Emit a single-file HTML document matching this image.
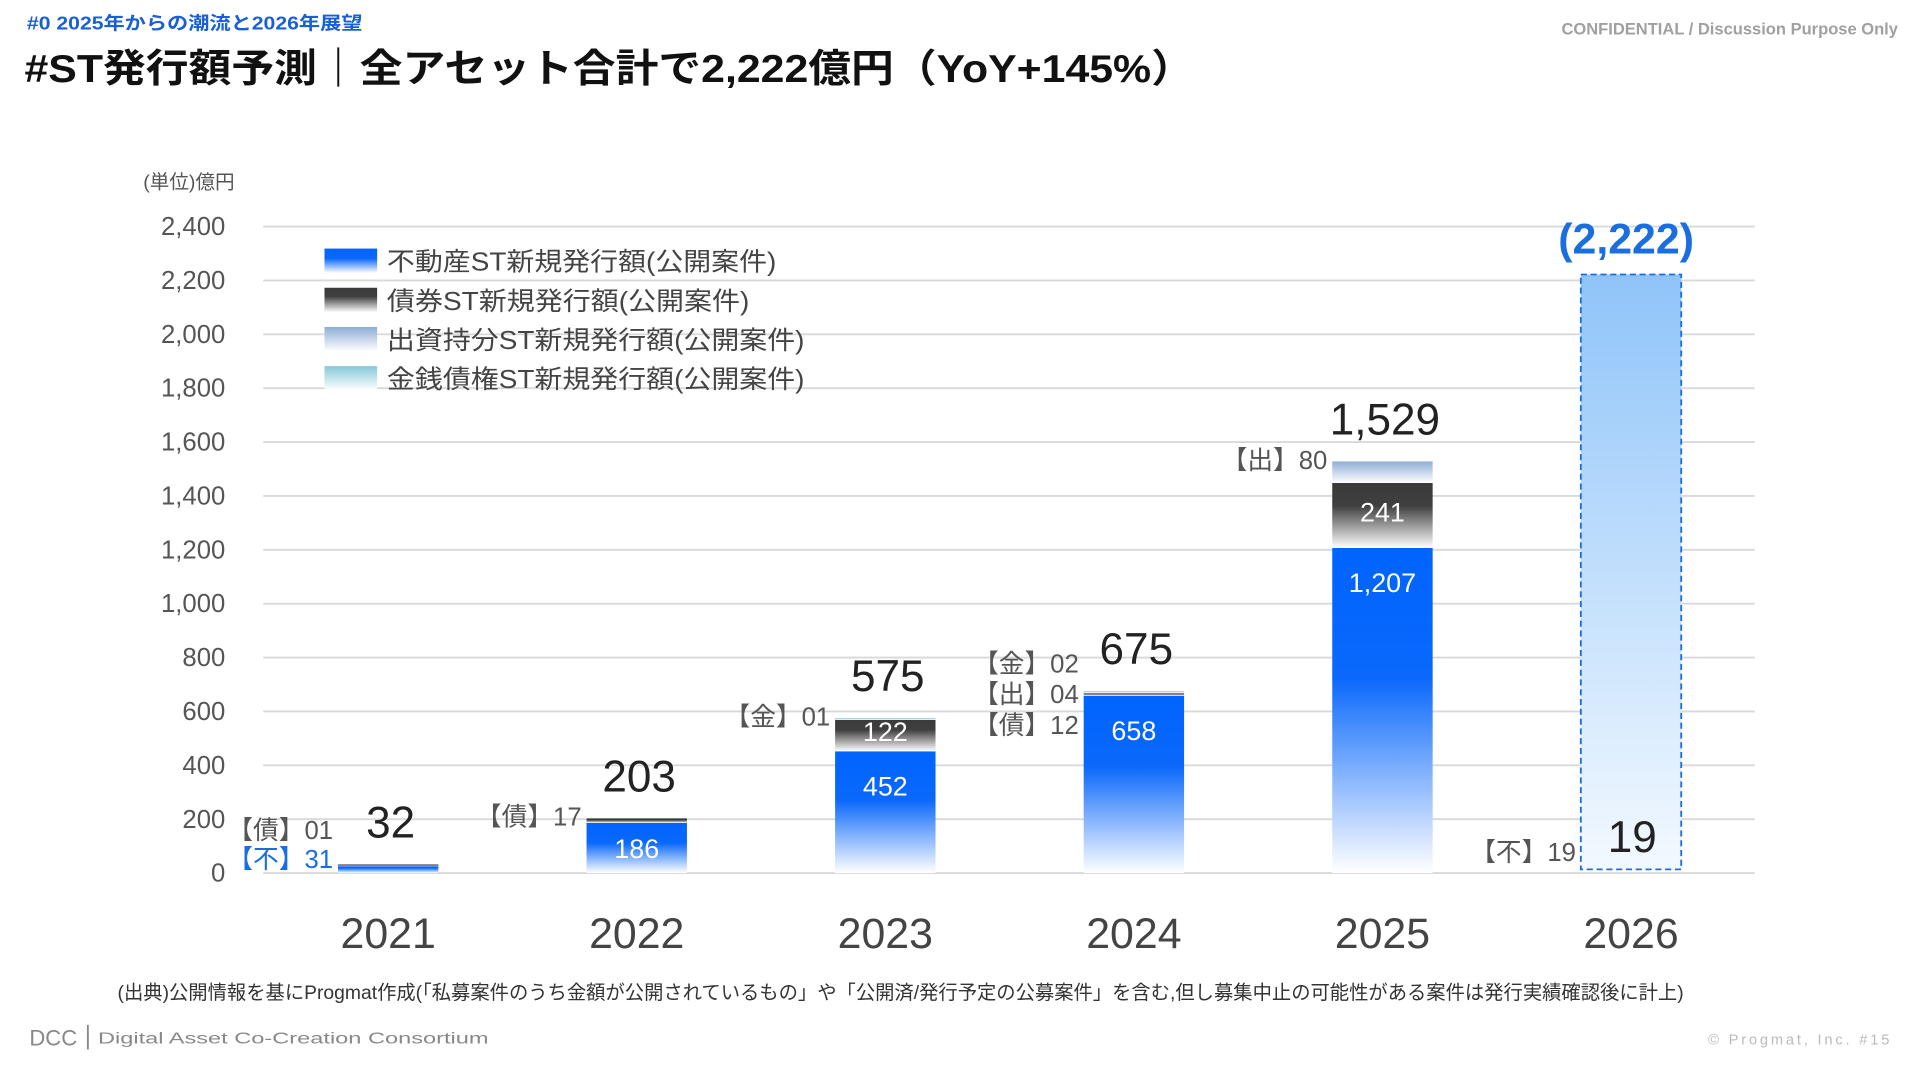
<!DOCTYPE html>
<html><head><meta charset="utf-8">
<style>
html,body{margin:0;padding:0;background:#fff;}
body{width:1920px;height:1080px;overflow:hidden;font-family:"Liberation Sans","Noto Sans CJK JP",sans-serif;}
svg text{font-family:"Liberation Sans","Noto Sans CJK JP",sans-serif;}
</style></head>
<body>
<svg id="chart" width="1920" height="1080" viewBox="0 0 1568 882" xmlns="http://www.w3.org/2000/svg">
<defs>
<linearGradient id="gBlue" x1="0" y1="0" x2="0" y2="1"><stop offset="0" stop-color="#0064ff"/><stop offset="0.4" stop-color="#0a68fb"/><stop offset="1" stop-color="#ffffff"/></linearGradient>
<linearGradient id="gDark" x1="0" y1="0" x2="0" y2="1"><stop offset="0" stop-color="#3a3a3a"/><stop offset="0.35" stop-color="#3f3f3f"/><stop offset="1" stop-color="#ffffff"/></linearGradient>
<linearGradient id="gEq" x1="0" y1="0" x2="0" y2="1"><stop offset="0" stop-color="#8eadd6"/><stop offset="1" stop-color="#ffffff"/></linearGradient>
<linearGradient id="gMon" x1="0" y1="0" x2="0" y2="1"><stop offset="0" stop-color="#86c8d8"/><stop offset="1" stop-color="#ffffff"/></linearGradient>
<linearGradient id="gFc" x1="0" y1="0" x2="0" y2="1"><stop offset="0" stop-color="#8fc4f9"/><stop offset="1" stop-color="#f3f9ff"/></linearGradient>
</defs>
<text x="22" y="24" font-size="15" font-weight="bold" fill="#1a5fd6" textLength="274" lengthAdjust="spacingAndGlyphs">#0  2025年からの潮流と2026年展望</text>
<text x="1550" y="28" font-size="13.5" font-weight="bold" fill="#a0a0a0" text-anchor="end">CONFIDENTIAL / Discussion Purpose Only</text>
<text x="20" y="67" font-size="32" font-weight="bold" fill="#111" textLength="955" lengthAdjust="spacingAndGlyphs">#ST発行額予測｜全アセット合計で2,222億円（YoY+145%）</text>
<text x="117" y="154" font-size="16" fill="#555">(単位)億円</text>
<g id="grid"></g><g id="bars"></g><g id="labels"></g>
<g>
<rect x="265" y="203" width="43" height="20" fill="url(#gBlue)"/>
<text x="316" y="221" font-size="21" fill="#444" textLength="318" lengthAdjust="spacingAndGlyphs">不動産ST新規発行額(公開案件)</text>
<rect x="265" y="235" width="43" height="20" fill="url(#gDark)"/>
<text x="316" y="253" font-size="21" fill="#444" textLength="296" lengthAdjust="spacingAndGlyphs">債券ST新規発行額(公開案件)</text>
<rect x="265" y="267" width="43" height="20" fill="url(#gEq)"/>
<text x="316" y="285" font-size="21" fill="#444" textLength="341" lengthAdjust="spacingAndGlyphs">出資持分ST新規発行額(公開案件)</text>
<rect x="265" y="299" width="43" height="20" fill="url(#gMon)"/>
<text x="316" y="317" font-size="21" fill="#444" textLength="341" lengthAdjust="spacingAndGlyphs">金銭債権ST新規発行額(公開案件)</text>
</g>
<text x="96" y="816" font-size="16" fill="#333" textLength="1279" lengthAdjust="spacingAndGlyphs">(出典)公開情報を基にProgmat作成(「私募案件のうち金額が公開されているもの」や「公開済/発行予定の公募案件」を含む,但し募集中止の可能性がある案件は発行実績確認後に計上)</text>
<text x="24" y="854" font-size="18" fill="#888">DCC</text>
<rect x="71" y="837" width="1.5" height="20" fill="#888"/>
<text x="80" y="852" font-size="13" fill="#888" font-family="Liberation Mono, monospace" textLength="319" lengthAdjust="spacingAndGlyphs">Digital Asset Co-Creation Consortium</text>
<text x="1395" y="853" font-size="12" fill="#bbb" textLength="148" lengthAdjust="spacing">© Progmat, Inc.    #15</text>
</svg>
<script>
const years=['2021','2022','2023','2024','2025','2026'];
const realEstate=[31,186,452,658,1207,19];
const bond=[1,17,122,12,241,0];
const equity=[0,0,0,4,80,0];
const monetary=[0,0,1,2,0,0];
const totals=['32','203','575','675','1,529','19'];
const forecast=[0,0,0,0,0,2222];
const forecastLabel='(2,222)';
const ticks=[0,200,400,600,800,1000,1200,1400,1600,1800,2000,2200,2400];
const sideLabels=[
 [['【債】01','#555',0],['【不】31','#1a6ee0',1]],
 [['【債】17','#555',0]],
 [['【金】01','#555',0]],
 [['【金】02','#555',-50],['【出】04','#555',-25],['【債】12','#555',0]],
 [['【出】80','#555',0]],
 [['【不】19','#555',0]]];
const NS='http://www.w3.org/2000/svg';
const y0=713,yTop=185,vMax=2400,x0=215,x1=1433;
const yS=v=>y0-(y0-yTop)*v/vMax;
const bandW=(1332-317)/5;
const xS=i=>317+i*bandW;
const bw=82;
function mk(tag,attrs,parent,txt){const e=document.createElementNS(NS,tag);for(const k in attrs)e.setAttribute(k,attrs[k]);if(txt!==undefined)e.textContent=txt;parent.appendChild(e);return e;}
const grid=document.getElementById('grid'),bars=document.getElementById('bars'),labels=document.getElementById('labels');
ticks.forEach(t=>{
 const l=mk('line',{x1:x0,x2:x1,y1:yS(t),y2:yS(t),stroke:'#d9d9d9','stroke-width':1.5},grid);
 
 
 const tx=mk('text',{x:184,y:yS(t)+7,'font-size':21,fill:'#555','text-anchor':'end'},grid,t.toLocaleString('en-US'));
 
 
});
years.forEach((yr,i)=>{
 const cx=xS(i);
 const xl=mk('text',{x:cx,y:774,'font-size':35,fill:'#444','text-anchor':'middle'},labels,yr);
 
 
 if(forecast[i]>0){
  const r=mk('rect',{x:cx-41,y:yS(forecast[i]),width:bw,height:yS(0)-3-yS(forecast[i]),fill:'url(#gFc)',stroke:'#1a6ee0','stroke-width':1.5,'stroke-dasharray':'5 3'},bars);
  
  
  const fl=mk('text',{x:cx-4,y:yS(forecast[i])-17,'font-size':35,'font-weight':'bold',fill:'#1a6ee0','text-anchor':'middle'},labels,forecastLabel);
  
  
 }
 let acc=0;
 const segs=[[realEstate,'url(#gBlue)','real-estate'],[bond,'url(#gDark)','bond'],[equity,'url(#gEq)','equity'],[monetary,'url(#gMon)','monetary']];
 segs.forEach(([arr,fill,nm])=>{
  const v=arr[i]; if(v<=0)return;
  if(forecast[i]>0 && nm==='real-estate'){acc+=v;return;}
  const yt=yS(acc+v),yb=yS(acc);
  const r=mk('rect',{x:cx-41,y:yt,width:bw,height:Math.max(yb-yt,1.5),fill:fill},bars);
  
  
  if(v>=100){
   const ty=(nm==='real-estate')?Math.min(yt+36,(yt+yb)/2+8):(yt+yb)/2+5;
   const t=mk('text',{x:cx,y:ty,'font-size':22,fill:'#fff','text-anchor':'middle'},labels,v.toLocaleString('en-US'));
   
   
  }
  acc+=v;
 });
 const top=acc;
 const tl=mk('text',{x:cx+(forecast[i]>0?1:2),y:forecast[i]>0?yS(0)-17:yS(top)-22,'font-size':36,fill:'#222','text-anchor':'middle'},labels,totals[i]);
 
 
 const sl=sideLabels[i];
 sl.forEach((s,k)=>{
  let y;
  if(i===0){y=k===0?685:709;}
  else if(i===3){y=yS(top)+s[2]+35;}
  else y=yS(top)+6;
  if(forecast[i]>0)y=yS(0)-10;
  const t=mk('text',{x:cx-45,y:y,'font-size':21,fill:s[1],'text-anchor':'end'},labels,s[0]);
  
  
 });
});
</script>
</body></html>
